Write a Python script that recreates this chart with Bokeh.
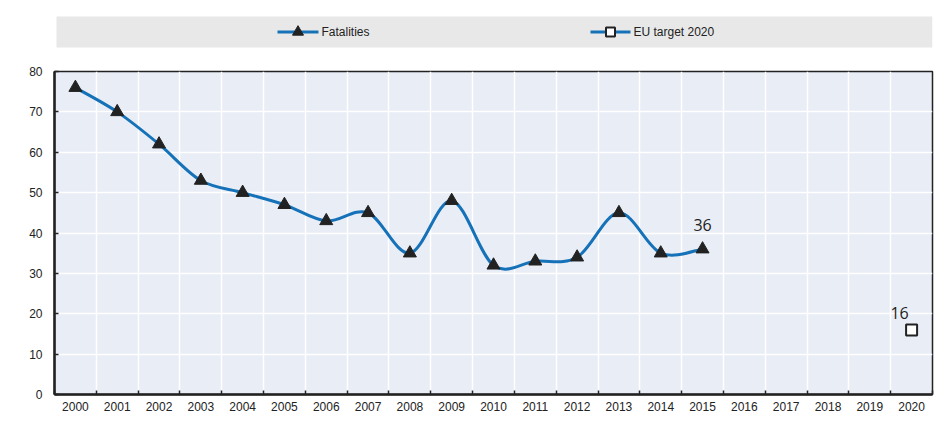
import numpy as np
from bokeh.plotting import figure
from bokeh.layouts import column
from bokeh.models import Range1d, FixedTicker, ColumnDataSource
from bokeh.core.properties import value
from bokeh.embed import file_html
from bokeh.resources import INLINE

# ---------------- data ----------------
years = [str(y) for y in range(2000, 2021)]
fatal_years = [str(y) for y in range(2000, 2016)]
fatalities = [76, 70, 62, 53, 50, 47, 43, 45, 35, 48, 32, 33, 34, 45, 35, 36]
target_years = ["2020"]
target_values = [16]
y_ticks = [0, 10, 20, 30, 40, 50, 60, 70, 80]
series_names = ["Fatalities", "EU target 2020"]

# ---------------- styles ----------------
BLUE = "#1672b8"
DARK = "#222222"
PLOT_BG = "#e9edf5"
BAND_BG = "#e8e8e8"
TICK_FONT = "Liberation Sans"
LABEL_FONT = "Open Sans"

W = 943
BL, BR = 54, 11

pos = {y: i + 0.5 for i, y in enumerate(years)}
fx = np.array([pos[y] for y in fatal_years], dtype=float)
fy = np.array(fatalities, dtype=float)
tx = [pos[y] for y in target_years]

# Catmull-Rom style smooth curve (drawn as cubic Bezier segments)
n = len(fx)
px = np.concatenate([[fx[0]], fx, [fx[-1]]])
py = np.concatenate([[fy[0]], fy, [fy[-1]]])
cx0 = fx[:-1] + (px[2:n + 1] - px[0:n - 1]) / 6.0
cy0 = fy[:-1] + (py[2:n + 1] - py[0:n - 1]) / 6.0
cx1 = fx[1:] - (px[3:n + 2] - px[1:n]) / 6.0
cy1 = fy[1:] - (py[3:n + 2] - py[1:n]) / 6.0
bez = ColumnDataSource(dict(x0=fx[:-1], y0=fy[:-1], x1=fx[1:], y1=fy[1:],
                            cx0=cx0, cy0=cy0, cx1=cx1, cy1=cy1))

# ---------------- main chart ----------------
p = figure(width=W, height=363, output_backend="svg", toolbar_location=None,
           x_range=Range1d(0, len(years)), y_range=Range1d(0, 80),
           min_border_left=BL, min_border_right=BR, min_border_top=13,
           min_border_bottom=27)
p.background_fill_color = PLOT_BG
p.border_fill_color = "white"
p.outline_line_color = DARK
p.outline_line_width = 1.5

p.bezier(x0="x0", y0="y0", x1="x1", y1="y1", cx0="cx0", cy0="cy0",
         cx1="cx1", cy1="cy1", source=bez, line_color=BLUE, line_width=3)
p.scatter(fx, fy, marker="triangle", size=13, fill_color=DARK, line_color=DARK)
p.scatter(tx, target_values, marker="square", size=11, fill_color="white",
          line_color=DARK, line_width=2)

p.text([fx[-1]], [fy[-1]], text=[str(fatalities[-1])], text_align="center",
       text_baseline="middle", y_offset=-24, text_font=value(LABEL_FONT),
       text_font_size="16px", text_color=DARK)
p.text(tx, target_values, text=[str(v) for v in target_values], text_align="center",
       text_baseline="middle", x_offset=-12, y_offset=-17, text_font=value(LABEL_FONT),
       text_font_size="16px", text_color=DARK)

# x axis: labels at category centres, tick marks/grid at boundaries
centers = [pos[y] for y in years]
bounds = list(range(0, len(years) + 1))
p.xaxis.ticker = FixedTicker(ticks=centers, minor_ticks=bounds)
p.xaxis.major_label_overrides = {c: y for c, y in zip(centers, years)}
p.xaxis.major_tick_line_color = None
p.xaxis.minor_tick_in = 4
p.xaxis.minor_tick_out = 0
p.xaxis.minor_tick_line_color = DARK
p.xaxis.minor_tick_line_width = 1.5
p.xaxis.axis_line_color = DARK
p.xaxis.axis_line_width = 2.5
p.xaxis.major_label_standoff = 1
p.xaxis.major_label_text_font = TICK_FONT
p.xaxis.major_label_text_font_size = "12px"
p.xaxis.major_label_text_color = DARK

p.yaxis.ticker = FixedTicker(ticks=y_ticks)
p.yaxis.major_tick_in = 4
p.yaxis.major_tick_out = 0
p.yaxis.major_tick_line_color = DARK
p.yaxis.major_tick_line_width = 1.5
p.yaxis.minor_tick_line_color = None
p.yaxis.axis_line_color = DARK
p.yaxis.axis_line_width = 2.5
p.yaxis.major_label_standoff = 12
p.yaxis.major_label_text_font = TICK_FONT
p.yaxis.major_label_text_font_size = "12px"
p.yaxis.major_label_text_color = DARK

p.xgrid.ticker = FixedTicker(ticks=bounds)
p.xgrid.grid_line_color = "white"
p.xgrid.grid_line_width = 1.5
p.ygrid.ticker = FixedTicker(ticks=y_ticks)
p.ygrid.grid_line_color = "white"
p.ygrid.grid_line_width = 1.5

# ---------------- legend band (coordinates in page pixels) ----------------
LH = 58
lg = figure(width=W, height=LH, output_backend="svg", toolbar_location=None,
            x_range=Range1d(BL, W - BR), y_range=Range1d(LH, 0),
            min_border_left=BL, min_border_right=BR, min_border_top=0,
            min_border_bottom=0)
lg.axis.visible = False
lg.grid.visible = False
lg.outline_line_color = None
lg.background_fill_color = "white"
lg.quad(left=[56], right=[932], top=[16], bottom=[47], fill_color=BAND_BG,
        line_color=None)
ly = 31.5
lg.segment(x0=[277, 590], y0=[ly, ly], x1=[318, 630], y1=[ly, ly],
           line_color=BLUE, line_width=3)
lg.scatter([297.5], [ly], marker="triangle", size=11, fill_color=DARK,
           line_color=DARK)
lg.scatter([610], [ly], marker="square", size=9, fill_color="white",
           line_color=DARK, line_width=2)
lg.text([321, 633], [ly, ly], text=series_names, text_baseline="middle",
        text_font=value(TICK_FONT), text_font_size="12px", text_color=DARK)

layout = column(lg, p, spacing=0)
open("out.html", "w").write(file_html(layout, INLINE))
